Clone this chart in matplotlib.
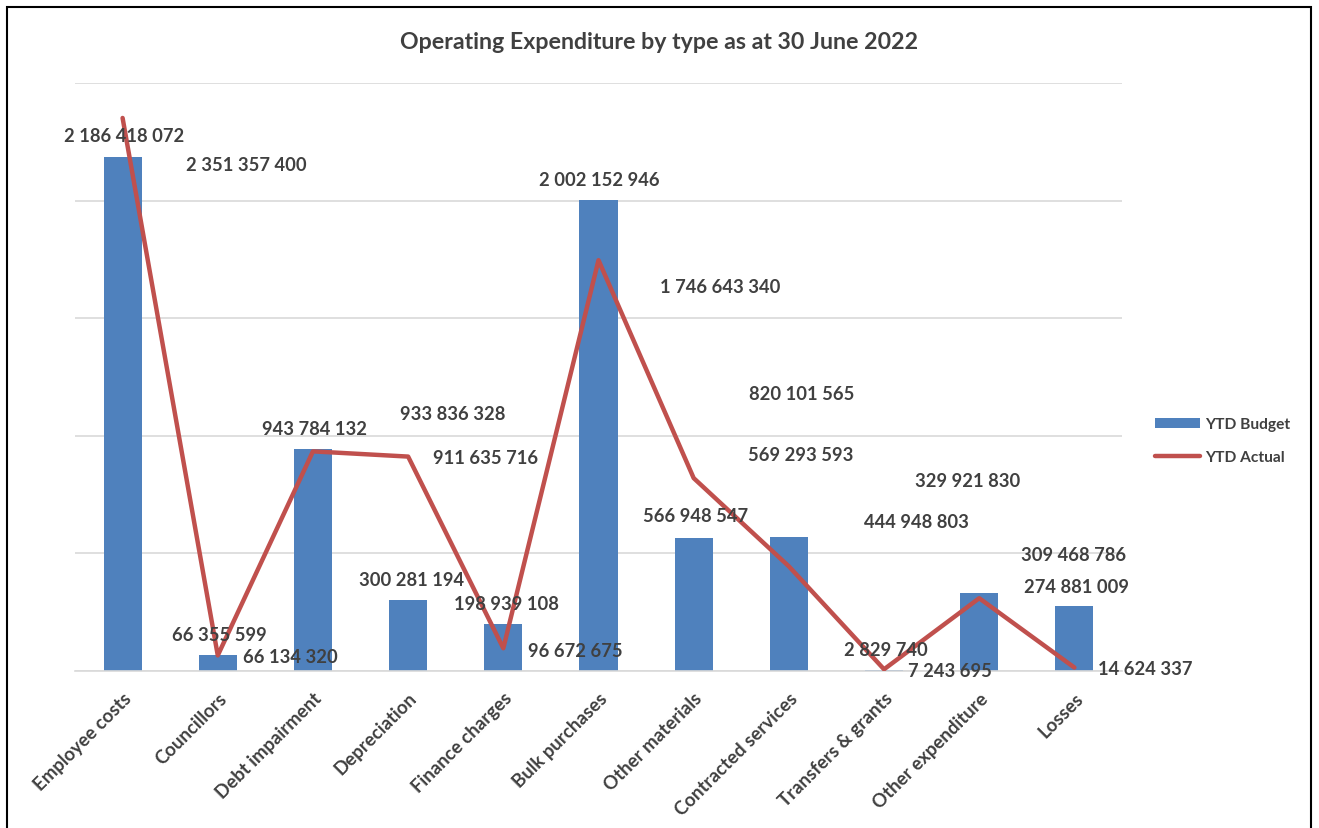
import matplotlib
matplotlib.use("Agg")
import matplotlib.pyplot as plt
from matplotlib.patches import Rectangle, Patch
from matplotlib.lines import Line2D

plt.rcParams['font.family'] = ['Lato', 'DejaVu Sans']

categories = ["Employee costs", "Councillors", "Debt impairment", "Depreciation",
              "Finance charges", "Bulk purchases", "Other materials", "Contracted services",
              "Transfers & grants", "Other expenditure", "Losses"]
ytd_budget = [2186418072, 66355599, 943784132, 300281194, 198939108, 2002152946,
              566948547, 569293593, 2829740, 329921830, 274881009]
ytd_actual = [2351357400, 66134320, 933836328, 911635716, 96672675, 1746643340,
              820101565, 444948803, 7243695, 309468786, 14624337]

# label offsets in pixels: budget labels are centred, actual labels start at the offset
budget_offsets = [(2, 21), (2, 21), (2, 21), (3, 21), (3, 21), (1, 21),
                  (2, 22), (12, 83), (2, 21), (-12, 113), (2, 20)]
actual_offsets = [(63, -47), (25, -1), (87, 38), (25, -1), (25, -2), (61, -26),
                  (55, 85), (75, 45), (24, -1), (42, 44), (24, -1)]

def fmt(v):
    return f"{v:,}".replace(",", " ")

W, H = 1319, 829
fig = plt.figure(figsize=(W / 100, H / 100), dpi=100)
ax = fig.add_axes([75 / W, 1 - 672 / H, (1122 - 75) / W, (672 - 84) / H])

text_color = "#404040"
bar_color = "#4F81BD"
line_color = "#C0504D"
label_size = 13.2

x = list(range(len(categories)))
ax.bar(x, ytd_budget, width=0.4, color=bar_color, zorder=2)
ax.plot(x, ytd_actual, color=line_color, linewidth=3.2, zorder=3, solid_capstyle='round')

ax.set_xlim(-0.5, len(categories) - 0.5)
ax.set_ylim(0, 2.5e9)
ax.set_yticks([i * 5e8 for i in range(6)])
ax.yaxis.grid(True, color="#D9D9D9", linewidth=1.2, zorder=0)
ax.set_axisbelow(True)
ax.tick_params(axis='y', left=False, labelleft=False)
ax.tick_params(axis='x', length=0, pad=13)
for s in ["top", "right", "left"]:
    ax.spines[s].set_visible(False)
ax.spines["bottom"].set_color("#D9D9D9")
ax.spines["bottom"].set_linewidth(1.2)
ax.set_xticks(x)
ax.set_xticklabels(categories, rotation=45, ha="right", rotation_mode="anchor",
                   fontsize=13.4, fontweight="bold", color=text_color)

for i, v in enumerate(ytd_budget):
    dx, dy = budget_offsets[i]
    ax.annotate(fmt(v), (i, v), xytext=(dx, dy), textcoords="offset pixels",
                ha="center", va="center", fontsize=label_size, fontweight="bold",
                color=text_color, zorder=4)
for i, v in enumerate(ytd_actual):
    dx, dy = actual_offsets[i]
    ax.annotate(fmt(v), (i, v), xytext=(dx, dy), textcoords="offset pixels",
                ha="left", va="center", fontsize=label_size, fontweight="bold",
                color=text_color, zorder=4)

fig.text(0.5, 1 - 42.5 / H, "Operating Expenditure by type as at 30 June 2022",
         ha="center", va="center", fontsize=16.7, fontweight="bold", color=text_color)

handles = [Patch(facecolor=bar_color, edgecolor="none"),
           Line2D([0], [0], color=line_color, linewidth=3.2, solid_capstyle='round')]
fig.legend(handles, ["YTD Budget", "YTD Actual"], loc="center left",
           bbox_to_anchor=(1141 / W, 1 - 441.5 / H), frameon=False,
           prop={"size": 11.2, "weight": "bold"}, labelcolor=text_color,
           handlelength=2.9, handleheight=0.64, handletextpad=0.3, labelspacing=1.2)

fig.patches.append(Rectangle((7 / W, -0.05), (1311 - 7) / W, 1.05 - 8 / H,
                             transform=fig.transFigure, fill=False,
                             edgecolor="black", linewidth=1.5))

fig.savefig("out.png", dpi=100)
